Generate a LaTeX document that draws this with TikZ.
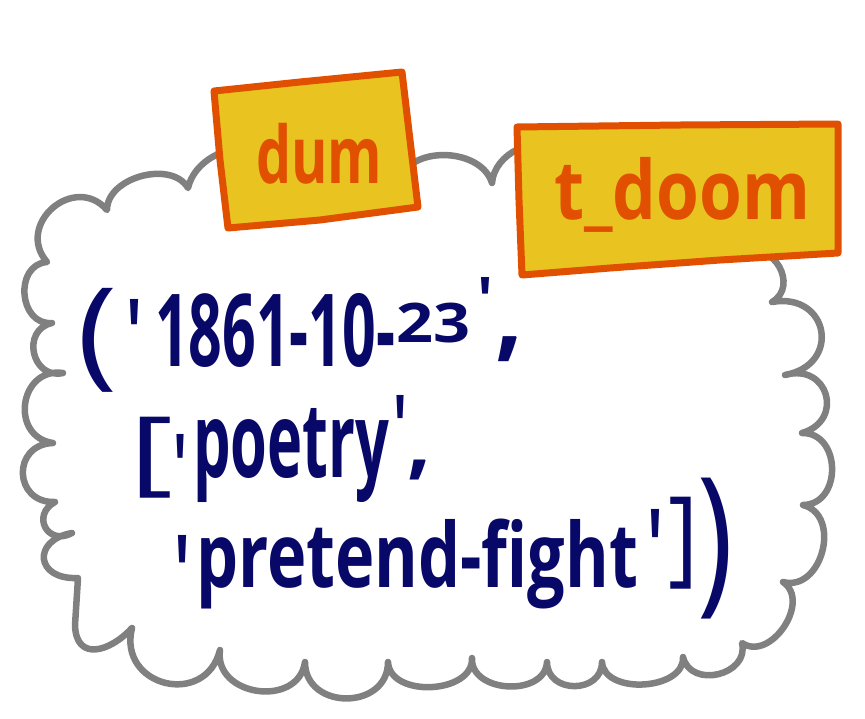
\documentclass[tikz,border=0pt]{standalone}
\usepackage{fontspec}
\usepackage{graphicx}
\newfontfamily\hand{Open Sans}
\definecolor{navyink}{RGB}{8,8,104}
\definecolor{orangeink}{RGB}{224,80,0}
\definecolor{tagfill}{RGB}{233,195,32}
\definecolor{cloudgray}{RGB}{128,128,128}
\begin{document}
\begin{tikzpicture}[x=1pt,y=-1pt,
  cloudline/.style={draw=cloudgray,line width=6.5pt,fill=white,line join=round,line cap=round},
  tagbox/.style={draw=orangeink,fill=tagfill,line width=7pt,line join=round},
  hw/.style={inner sep=0pt,outer sep=0pt,text=navyink,font=\hand\bfseries,anchor=north west},
  hwc/.style={inner sep=0pt,outer sep=0pt,text=navyink,font=\hand\bfseries,anchor=north},
  hwl/.style={inner sep=0pt,outer sep=0pt,text=navyink,font=\hand,anchor=north},
  tagtext/.style={inner sep=0pt,outer sep=0pt,text=orangeink,font=\hand\bfseries,anchor=north west}]
\useasboundingbox (0,0) rectangle (865,718);

% cloud
\draw[cloudline] (47,262)
  to[bend left=90,looseness=1.6] (107,210)
  to[bend left=75] (188,188)
  to[bend left=60] (280,160)
  to[bend left=40] (400,178)
  to[bend left=70] (492,183)
  to[bend left=60] (560,150)
  -- (745,255)
  to[bend left=90,looseness=1.5] (772,302)
  to[bend left=90,looseness=2.0] (785,375)
  to[bend left=90,looseness=1.9] (802,433)
  to[bend left=90,looseness=1.4] (803,505)
  to[bend left=90,looseness=1.3] (783,582)
  to[bend left=90,looseness=1.2] (742,643)
  to[bend left=90,looseness=1.4] (683,657)
  to[bend left=90,looseness=1.05] (602,662)
  to[bend left=90,looseness=1.5] (547,662)
  to[bend left=90,looseness=1.2] (472,658)
  to[bend left=90,looseness=1.1] (388,662)
  to[bend left=90,looseness=1.5] (305,662)
  to[bend left=90,looseness=1.4] (220,650)
  to[bend left=90,looseness=1.7] (132,628)
  .. controls (110,652) and (76,662) .. (75,625)
  -- (78,578)
  .. controls (35,580) and (32,540) .. (72,533)
  to[bend left=90,looseness=2.0] (55,502)
  to[bend left=90,looseness=1.8] (53,443)
  to[bend left=90,looseness=1.6] (63,373)
  to[bend left=90,looseness=1.6] (52,323)
  to[bend left=90,looseness=1.4] (47,262)
  -- cycle;

% tags
\draw[tagbox] (214,91) -- (300,82) -- (402,72) -- (410,140) -- (418,207) -- (320,220) -- (228,228) -- (220,160) -- cycle;
\draw[tagbox] (517,127) -- (680,125) -- (838,124) -- (838,253) -- (720,260) -- (610,268) -- (522,275) -- (519,200) -- cycle;
\node[tagtext] (dum) at (256,123) {\resizebox*{126pt}{61pt}{dum}};
\node[tagtext] (tdoom) at (554,157) {\resizebox*{256pt}{75pt}{t\_doom}};

% line 1
\node[hwl] (lp) at (98,288) {\resizebox*{40pt}{104pt}{(}};
\node[hwc] (q1) at (135,299) {\resizebox*{16pt}{70pt}{\textquotesingle}};
\node[hw] (d1) at (155,293) {\resizebox*{240pt}{74pt}{1861-10-}};
\node[hw] (d2) at (396,303) {\resizebox*{74pt}{40pt}{23}};
\node[hwc] (q2) at (485.5,277) {\resizebox*{16pt}{46pt}{\textquotesingle}};
\node[hwc] (c1) at (509,337) {\resizebox*{28pt}{25pt}{,}};

% line 2
\node[hwl] (lb) at (151.5,417) {\resizebox*{44pt}{81pt}{[}};
\node[hwc] (q3) at (180,434) {\resizebox*{14pt}{66pt}{\textquotesingle}};
\node[hw] (w1) at (193,408) {\resizebox*{196pt}{94pt}{poetry}};
\node[hwc] (q4) at (400,395) {\resizebox*{14pt}{64pt}{\textquotesingle}};
\node[hwc] (c2) at (419,460) {\resizebox*{24pt}{20pt}{,}};

% line 3
\node[hwc] (q5) at (182.5,535) {\resizebox*{16pt}{76pt}{\textquotesingle}};
\node[hw] (w2) at (196,519) {\resizebox*{442pt}{90pt}{pretend-fight}};
\node[hwc] (q6) at (655,509) {\resizebox*{16pt}{78pt}{\textquotesingle}};
\node[hwl] (rb) at (683,497) {\resizebox*{30pt}{92pt}{]}};
\node[hwl] (rp) at (716,478) {\resizebox*{36pt}{141pt}{)}};
\end{tikzpicture}
\end{document}
